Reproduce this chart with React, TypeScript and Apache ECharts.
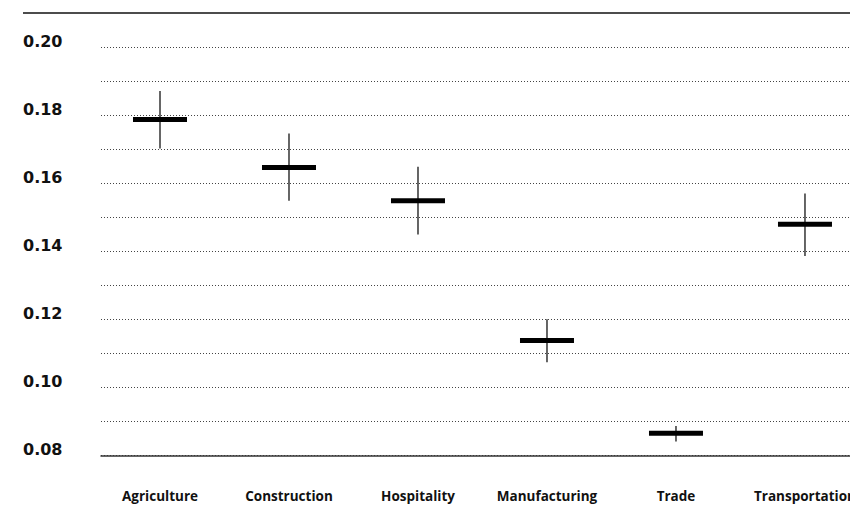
import React, { useEffect, useRef } from "react";
import * as echarts from "echarts";

// Sector estimates: point value with lower / upper interval bounds
const categories = ["Agriculture", "Construction", "Hospitality", "Manufacturing", "Trade", "Transportation"];
const estimates = [0.1787, 0.1646, 0.1548, 0.1138, 0.0865, 0.1479];
const lowerBounds = [0.1702, 0.1548, 0.1449, 0.1074, 0.0841, 0.1386];
const upperBounds = [0.1871, 0.1746, 0.1648, 0.12, 0.0887, 0.157];
const yTicks = [0.08, 0.1, 0.12, 0.14, 0.16, 0.18, 0.2];

export default function App() {
  const ref = useRef<HTMLDivElement>(null);

  useEffect(() => {
    if (!ref.current) return;
    const chart = echarts.init(ref.current, undefined, { renderer: "svg" });
    const data = categories.map((_, i) => [i, estimates[i], lowerBounds[i], upperBounds[i]]);

    chart.setOption({
      animation: false,
      backgroundColor: "#ffffff",
      grid: { left: 101, right: 0, top: 47, bottom: 49.5, outerBoundsMode: "none", containLabel: false },
      xAxis: {
        type: "value",
        min: -0.4574,
        max: 5.349,
        splitLine: { show: false },
        axisTick: { show: false },
        axisLine: { show: true, lineStyle: { color: "#333", width: 1.5 } },
        axisLabel: {
          customValues: categories.map((_, i) => i),
          formatter: (v: number) => categories[Math.round(v)] ?? "",
          margin: 33,
          color: "#111",
          fontFamily: "Open Sans",
          fontWeight: "bold",
          fontSize: 13.5,
        },
      },
      yAxis: {
        type: "value",
        min: 0.08,
        max: 0.2,
        interval: 0.01,
        axisLine: { show: false },
        axisTick: { show: false },
        splitLine: { show: true, lineStyle: { color: "#444", width: 1, type: [1, 2] } },
        axisLabel: {
          align: "left",
          verticalAlign: "bottom",
          lineHeight: 12,
          margin: 78,
          color: "#111",
          fontFamily: "DejaVu Sans",
          fontWeight: "bold",
          fontSize: 16,
          formatter: (v: number) => {
            const t = yTicks.find((y) => Math.abs(y - v) < 1e-6);
            return t !== undefined ? t.toFixed(2) : "";
          },
        },
      },
      graphic: [
        {
          type: "line",
          shape: { x1: 23, y1: 13, x2: 850, y2: 13 },
          style: { stroke: "#111", lineWidth: 1.5 },
        },
      ],
      series: [
        {
          type: "custom",
          data,
          encode: { x: 0, y: [1, 2, 3] },
          renderItem: (_params: any, api: any) => {
            const x = api.value(0);
            const mid = api.coord([x, api.value(1)]);
            const lo = api.coord([x, api.value(2)]);
            const hi = api.coord([x, api.value(3)]);
            return {
              type: "group",
              children: [
                {
                  type: "line",
                  shape: { x1: mid[0], y1: hi[1], x2: mid[0], y2: lo[1] },
                  style: { stroke: "#333", lineWidth: 1.5 },
                },
                {
                  type: "rect",
                  shape: { x: mid[0] - 27, y: mid[1] - 2.5, width: 54, height: 5 },
                  style: { fill: "#000" },
                },
              ],
            };
          },
        },
      ],
    });

    return () => chart.dispose();
  }, []);

  return <div ref={ref} style={{ width: 850, height: 505, position: "absolute", left: 0, top: 0 }} />;
}
